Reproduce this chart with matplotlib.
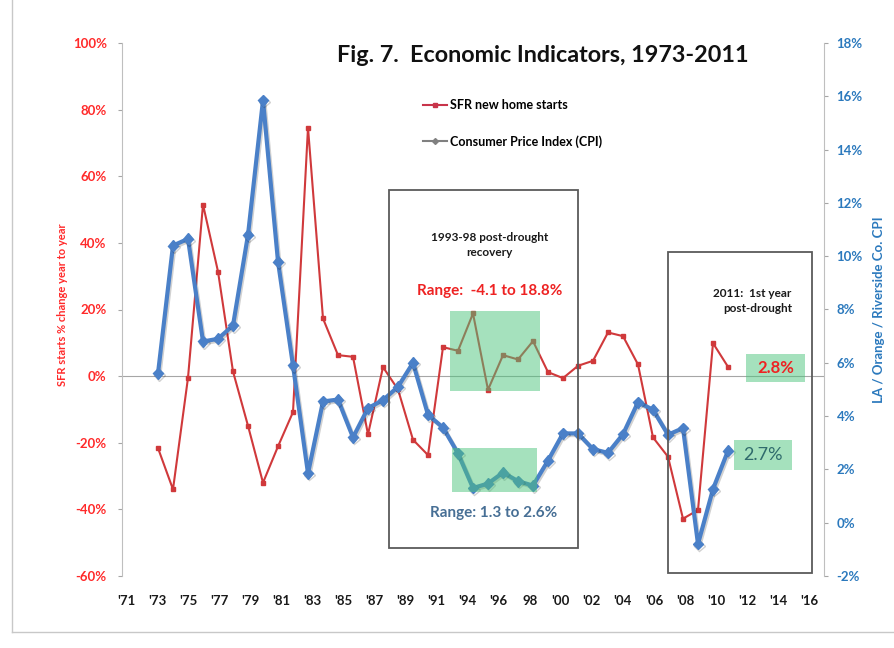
import numpy as np
import matplotlib.pyplot as plt
import matplotlib.patches as mpatches
import matplotlib.patheffects as pe
from matplotlib.lines import Line2D

years = list(range(1973, 2012))

# SFR new home starts, % change year to year
sfr_change = [-21.6, -34.0, -0.5, 51.5, 31.4, 1.4, -14.9, -32.0, -21.1, -10.8,
              74.6, 17.3, 6.3, 5.8, -17.5, 2.7, -4.0, -19.1, -23.7, 8.7,
              7.6, 18.8, -4.1, 6.3, 5.0, 10.5, 1.2, -0.6, 3.1, 4.6,
              13.1, 12.0, 3.5, -18.4, -24.2, -42.8, -40.2, 9.9, 2.8]

# LA / Orange / Riverside Co. CPI, % change
cpi_change = [5.6, 10.4, 10.65, 6.8, 6.9, 7.4, 10.8, 15.85, 9.8, 5.9,
              1.85, 4.55, 4.62, 3.2, 4.3, 4.6, 5.1, 6.0, 4.05, 3.57,
              2.6, 1.3, 1.47, 1.88, 1.56, 1.39, 2.33, 3.35, 3.35, 2.76,
              2.62, 3.32, 4.52, 4.24, 3.3, 3.55, -0.8, 1.26, 2.7]

year_labels = ["'71", "'73", "'75", "'77", "'79", "'81", "'83", "'85", "'87", "'89", "'91",
               "'94", "'96", "98", "'00", "'02", "'04", "'06", "'08", "'10", "'12", "'14", "'16"]
left_ticks = [-60, -40, -20, 0, 20, 40, 60, 80, 100]
right_ticks = [-2, 0, 2, 4, 6, 8, 10, 12, 14, 16, 18]

plt.rcParams['font.family'] = ['Lato', 'DejaVu Sans']

RED = '#d0393b'
BLUE = '#4a80c8'
GREEN = '#4cc47c'

fig = plt.figure(figsize=(8.94, 6.48), dpi=100)
ax1 = fig.add_axes([122 / 894, 1 - 576 / 648, (824 - 122) / 894, (576 - 43) / 648])
ax2 = ax1.twinx()

ax1.axhline(0, color='#a6a6a6', lw=0.8, zorder=1)
ax1.plot(years, sfr_change, '-', marker='s', ms=3, lw=1.5, color=RED, zorder=3)
ax2.plot(years, cpi_change, '-', marker='D', ms=5.5, lw=3, color=BLUE, zorder=3,
         path_effects=[pe.SimpleLineShadow(offset=(1, -1.2), alpha=0.18), pe.Normal()])

ax1.set_xlim(1970.6, 2017.4)
ax1.set_ylim(-60, 100)
ax2.set_ylim(-2, 18)

ax1.set_xticks(np.linspace(1970.9, 2016.4, len(year_labels)))
ax1.set_xticklabels(year_labels, fontsize=9.5, fontweight='bold', color='#1a1a1a')
ax1.tick_params(axis='x', length=0, pad=14)

ax1.set_yticks(left_ticks)
ax1.set_yticklabels([f'{v}%' for v in left_ticks], fontsize=9.5, fontweight='bold')
ax1.tick_params(axis='y', length=3, color='#a6a6a6', labelcolor='#ff2a2a', pad=8)
ax2.set_yticks(right_ticks)
ax2.set_yticklabels([f'{v}%' for v in right_ticks], fontsize=9.5, fontweight='bold')
ax2.tick_params(axis='y', length=3, color='#a6a6a6', labelcolor='#2b79bd', pad=6)

for s in ['top', 'bottom', 'right']:
    ax1.spines[s].set_visible(False)
for s in ['top', 'bottom', 'left']:
    ax2.spines[s].set_visible(False)
ax1.spines['left'].set_color('#bfbfbf')
ax2.spines['right'].set_color('#bfbfbf')

# outlined boxes around the two post-drought periods
ax2.add_patch(mpatches.Rectangle((1988.4, -51.6), 12.6, 107.4, transform=ax1.transData,
                                 fill=False, ec='#5a5a5a', lw=1.3, zorder=4))
ax2.add_patch(mpatches.Rectangle((2007.0, -59.1), 9.6, 96.3, transform=ax1.transData,
                                 fill=False, ec='#5a5a5a', lw=1.3, zorder=4))

# translucent highlight boxes
ax2.add_patch(mpatches.Rectangle((1992.45, -4.4), 6.0, 24.0, transform=ax1.transData,
                                 fc=GREEN, alpha=0.5, lw=0, zorder=5))
ax2.add_patch(mpatches.Rectangle((1992.63, 1.17), 5.64, 1.63,
                                 fc=GREEN, alpha=0.5, lw=0, zorder=5))
ax2.add_patch(mpatches.Rectangle((2012.23, -1.7), 3.93, 8.2, transform=ax1.transData,
                                 fc=GREEN, alpha=0.5, lw=0, zorder=5))
ax2.add_patch(mpatches.Rectangle((2011.4, 1.99), 3.87, 1.1,
                                 fc=GREEN, alpha=0.5, lw=0, zorder=5))

ax2.text(1995.1, 39.3, '1993-98 post-drought\nrecovery', transform=ax1.transData,
         ha='center', va='center', fontsize=8.5, fontweight='bold', color='#1a1a1a',
         linespacing=1.5, zorder=6)
ax2.text(1995.1, 25.5, 'Range:  -4.1 to 18.8%', transform=ax1.transData,
         ha='center', va='center', fontsize=11, fontweight='bold', color='#ee2222', zorder=6)
ax2.text(1995.4, -41.1, 'Range: 1.3 to 2.6%', transform=ax1.transData,
         ha='center', va='center', fontsize=11, fontweight='bold', color='#476f95', zorder=6)
ax2.text(2015.25, 22.5, '2011:  1st year\npost-drought', transform=ax1.transData,
         ha='right', va='center', multialignment='right', fontsize=8.5, fontweight='bold',
         color='#1a1a1a', linespacing=1.5, zorder=6)
ax2.text(2014.2, 2.4, '2.8%', transform=ax1.transData, ha='center', va='center',
         fontsize=12, fontweight='bold', color='#ee2222', zorder=6)
ax2.text(2013.3, -23.7, '2.7%', transform=ax1.transData, ha='center', va='center',
         fontsize=13, color='#2f6a6c', zorder=6)

fig.text(543 / 894, 1 - 55 / 648, 'Fig. 7.  Economic Indicators, 1973-2011',
         ha='center', va='center', fontsize=16.8, fontweight='bold', color='#111111')

handles = [Line2D([], [], color='#c8344a', lw=1.5, marker='s', ms=2.5),
           Line2D([], [], color='#808080', lw=1.5, marker='D', ms=3)]
fig.legend(handles, ['SFR new home starts', 'Consumer Price Index (CPI)'],
           loc='upper left', bbox_to_anchor=(412 / 894, 1 - 88 / 648),
           frameon=False, prop={'size': 9, 'weight': 'bold'},
           handlelength=1.9, handletextpad=0.2, labelspacing=1.9)

fig.text(62 / 894, 1 - 305 / 648, 'SFR starts % change year to year', rotation=90,
         ha='center', va='center', fontsize=8, fontweight='bold', color='#ff2a2a')
fig.text(879 / 894, 1 - 310 / 648, 'LA / Orange / Riverside Co. CPI', rotation=90,
         ha='center', va='center', fontsize=9.5, fontweight='bold', color='#2b79bd')

# light frame of the chart area
fig.add_artist(Line2D([12 / 894, 12 / 894], [1 - 632 / 648, 1], color='#c8c8c8', lw=1))
fig.add_artist(Line2D([12 / 894, 1], [1 - 632 / 648, 1 - 632 / 648], color='#c8c8c8', lw=1))

plt.savefig('out.png', dpi=100)
